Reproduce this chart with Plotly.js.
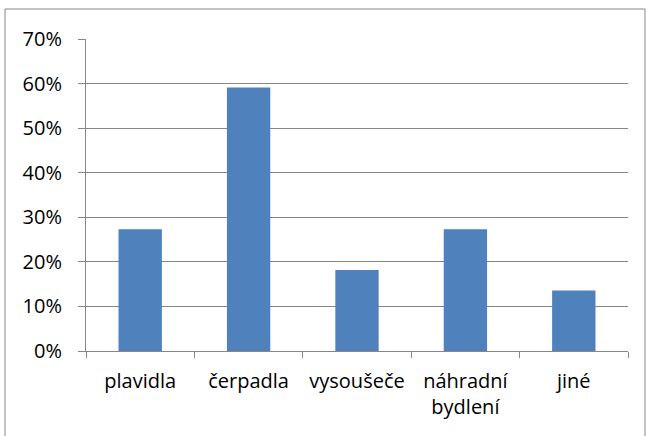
<!DOCTYPE html>
<html>
<head>
<meta charset="utf-8">
<script src="https://cdn.plot.ly/plotly-3.0.1.min.js"></script>
<style>html,body{margin:0;padding:0;background:#fff;}#chart{width:646px;height:436px;}</style>
</head>
<body>
<div id="chart"></div>
<script>
const categories = ["plavidla", "čerpadla", "vysoušeče", "náhradní<br>bydlení", "jiné"];
const values = [0.273, 0.591, 0.182, 0.273, 0.136];
const yTicks = [0, 0.1, 0.2, 0.3, 0.4, 0.5, 0.6, 0.7];
const yTickLabels = ["0%", "10%", "20%", "30%", "40%", "50%", "60%", "70%"];

const W = 646, H = 436, L = 86, R = 18, T = 39, B = 85;
const pw = W - L - R, ph = H - T - B;
const px = v => (v - L) / pw;
const py = v => (H - B - v) / ph;

const font = {family: "'Open Sans', 'Noto Sans', sans-serif", size: 20, color: "#000"};
Plotly.newPlot("chart", [{
  type: "bar",
  x: categories,
  y: values,
  marker: {color: "#4F81BD"},
  hoverinfo: "none"
}], {
  width: W, height: H,
  margin: {l: L, r: R, t: T, b: B},
  paper_bgcolor: "#fff", plot_bgcolor: "#fff",
  bargap: 0.6,
  showlegend: false,
  font: font,
  xaxis: {
    type: "category",
    showline: true, linecolor: "#868686", linewidth: 1,
    ticks: "outside", tickson: "boundaries", ticklen: 6, tickcolor: "#868686",
    showgrid: false, zeroline: false,
    tickfont: font, ticklabelstandoff: 12, fixedrange: true
  },
  yaxis: {
    range: [0, 0.7],
    tickvals: yTicks, ticktext: yTickLabels,
    showline: true, linecolor: "#868686", linewidth: 1,
    ticks: "outside", ticklen: 7, tickcolor: "#868686",
    showgrid: true, gridcolor: "#868686", gridwidth: 1,
    zeroline: false, tickfont: font, ticklabelstandoff: 12, fixedrange: true
  },
  shapes: [{
    type: "rect", xref: "paper", yref: "paper",
    x0: px(5), x1: px(645), y0: py(9), y1: py(440),
    line: {color: "#868686", width: 1}
  }]
}, {displayModeBar: false, staticPlot: true});
</script>
</body>
</html>
